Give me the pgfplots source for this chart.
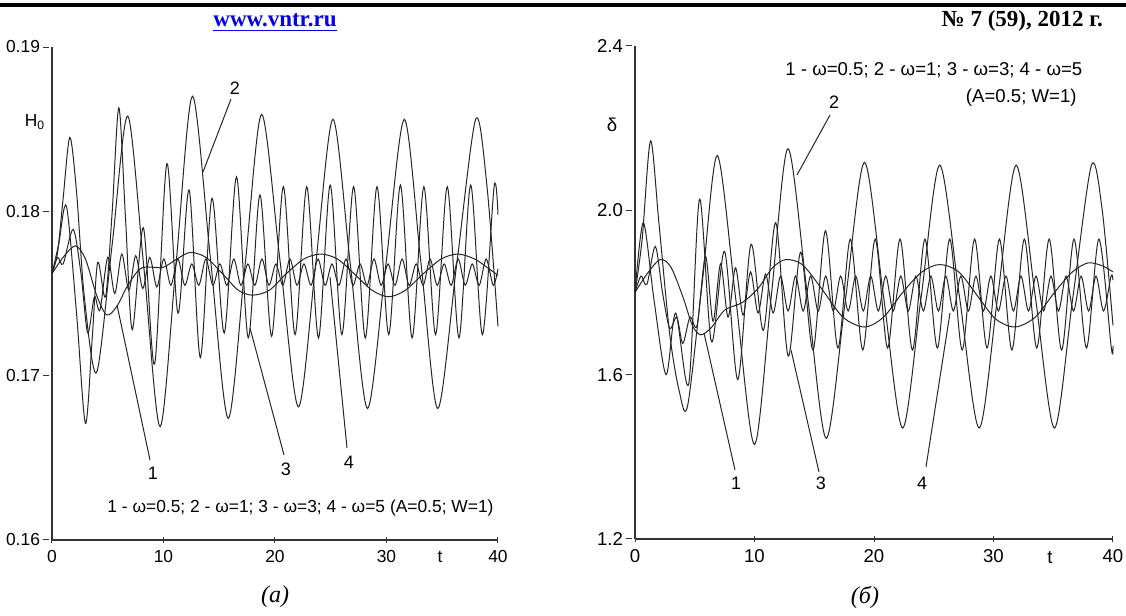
\documentclass[border=0pt]{standalone}
\usepackage{pgfplots}
\pgfplotsset{compat=1.18}
\usepackage{fontspec}
\setmainfont{Liberation Sans}
\newfontfamily\tnr{Liberation Serif}
\definecolor{linkblue}{RGB}{0,0,230}

% common look of both panels: only left and bottom axis lines
\pgfplotsset{
  panel/.style={
    scale only axis, anchor=south west,
    xmin=0, xmax=40, enlargelimits=false,
    axis lines=left, axis line style={-, black!80, line width=0.6pt},
    xtick={0,10,20,30,40}, xticklabels={0,10,20,30,40},
    major tick length=3pt, tick style={black!80, line width=0.5pt},
    ytick style={xshift=-3pt},
    yticklabel style={xshift=-1pt},
    clip=false,
  },
  crv/.style={black!85, line width=0.5pt, smooth, mark=none},
}

\begin{document}
\begin{tikzpicture}[x=0.5pt,y=0.5pt]
\useasboundingbox (0,0) rectangle (1126,616);

% page header
\draw[line width=2pt] (0,611) -- (1126,611);
\node[anchor=base, font=\tnr\bfseries\fontsize{11.5}{13}\selectfont, text=linkblue] at (275,589) {\underline{www.vntr.ru}};
\node[anchor=base east, font=\tnr\bfseries\fontsize{11.5}{13}\selectfont] at (1110,589) {№ 7 (59), 2012 г.};

% (a) H0
\begin{axis}[panel, at={(26pt,38pt)}, width=223pt, height=246.5pt,
  ymin=0.16, ymax=0.19,
  ytick={0.16,0.17,0.18,0.19}, yticklabels={0.16,0.17,0.18,0.19},
  ticklabel style={font=\fontsize{8.7}{10}\selectfont}]
% 1: omega=0.5
\addplot[crv] coordinates {(0,0.1762) (1.0,0.1772) (2.1,0.1779) (3.0,0.1771) (4.0,0.1749) (4.9,0.1737) (5.8,0.1742) (6.8,0.1755) (7.9,0.1765) (8.9,0.1766) (10.0,0.1766) (11.2,0.1771) (12.4,0.1775) (13.8,0.1772) (15.3,0.1762) (16.7,0.1752) (18.0,0.1749) (19.5,0.1752) (21.0,0.1762) (22.6,0.1771) (24.1,0.1774) (25.6,0.1771) (27.1,0.1762) (28.7,0.1752) (30.2,0.1748) (31.7,0.1752) (33.3,0.1762) (34.9,0.1771) (36.4,0.1774) (37.9,0.1771) (39.2,0.1765) (40,0.1761)};
% 2: omega=1
\addplot[crv] coordinates {(0,0.1762) (0.5,0.1775) (1.0,0.1808) (1.6,0.1845) (2.2,0.1812) (2.9,0.1748) (4.0,0.1702) (5.4,0.1780) (6.8,0.1858) (8.25,0.1765) (9.7,0.1669) (11.15,0.1770) (12.6,0.1870) (14.2,0.1772) (15.8,0.1674) (17.3,0.1766) (18.8,0.1859) (20.45,0.1770) (22.1,0.1681) (23.65,0.1768) (25.2,0.1856) (26.75,0.1768) (28.3,0.1680) (29.95,0.1768) (31.6,0.1856) (33.1,0.1768) (34.6,0.1680) (36.3,0.1768) (38.0,0.1856) (39.0,0.1816) (40,0.1730)};
% 3: omega=3
\addplot[crv] coordinates {(0,0.1762) (0.6,0.1780) (1.3,0.1803) (2.2,0.1738) (3.0,0.1671) (3.6,0.1722) (4.1,0.1769) (4.8,0.1748) (5.4,0.1800) (6.0,0.1863) (6.6,0.1795) (7.2,0.1728) (8.2,0.1790) (9.2,0.1707) (10.3,0.1829) (11.3,0.1738) (12.3,0.1813) (13.3,0.1711) (14.35,0.1808) (15.45,0.1726) (16.55,0.1821) (17.6,0.1723) (18.65,0.1810) (19.7,0.1724) (20.75,0.1815) (21.8,0.1725) (22.85,0.1815) (23.9,0.1723) (24.95,0.1816) (26.0,0.1725) (27.05,0.1815) (28.1,0.1723) (29.15,0.1815) (30.2,0.1725) (31.25,0.1816) (32.3,0.1723) (33.35,0.1815) (34.4,0.1725) (35.45,0.1815) (36.5,0.1723) (37.55,0.1816) (38.6,0.1725) (39.65,0.1815) (40,0.1798)};
% 4: omega=5
\addplot[crv] coordinates {(0,0.1762) (0.5,0.1772) (1.0,0.1768) (1.9,0.1789) (2.6,0.1762) (3.2,0.1726) (3.8,0.1748) (4.3,0.1740) (5.0,0.1772) (5.63,0.1750) (6.26,0.1774) (6.89,0.1752) (7.51,0.1773) (8.14,0.1753) (8.77,0.1772) (9.4,0.1754) (10.03,0.1771) (10.66,0.1755) (11.29,0.1771) (11.91,0.1755) (12.54,0.1768) (13.17,0.1755) (13.8,0.1771) (14.43,0.1755) (15.06,0.1768) (15.69,0.1755) (16.31,0.1771) (16.94,0.1755) (17.57,0.1768) (18.2,0.1755) (18.83,0.1771) (19.46,0.1755) (20.08,0.1768) (20.71,0.1755) (21.34,0.1771) (21.97,0.1755) (22.6,0.1768) (23.23,0.1755) (23.86,0.1771) (24.49,0.1755) (25.11,0.1768) (25.74,0.1755) (26.37,0.1771) (27.0,0.1755) (27.63,0.1768) (28.26,0.1755) (28.88,0.1771) (29.51,0.1755) (30.14,0.1768) (30.77,0.1755) (31.4,0.1771) (32.03,0.1755) (32.66,0.1768) (33.29,0.1755) (33.91,0.1771) (34.54,0.1755) (35.17,0.1768) (35.8,0.1755) (36.43,0.1771) (37.06,0.1755) (37.69,0.1768) (38.31,0.1755) (38.94,0.1771) (39.57,0.1755) (40,0.1765)};
\end{axis}

% (b) delta
\begin{axis}[panel, at={(317.5pt,38.5pt)}, width=239pt, height=246.5pt,
  ymin=1.2, ymax=2.4,
  ytick={1.2,1.6,2.0,2.4}, yticklabels={1.2,1.6,2.0,2.4},
  ticklabel style={font=\fontsize{9.3}{11}\selectfont}]
% 1: omega=0.5
\addplot[crv] coordinates {(0,1.80) (1.0,1.845) (2.1,1.88) (3.0,1.862) (4.0,1.79) (4.8,1.72) (5.5,1.697) (6.4,1.715) (7.5,1.757) (9.0,1.776) (10.3,1.81) (11.5,1.86) (12.6,1.88) (14.0,1.868) (15.6,1.81) (17.4,1.74) (19.2,1.716) (20.8,1.74) (22.4,1.80) (24.0,1.85) (25.5,1.868) (27.1,1.85) (28.7,1.79) (30.2,1.735) (31.8,1.716) (33.5,1.74) (35.1,1.80) (36.6,1.85) (37.9,1.872) (39.1,1.865) (40,1.85)};
% 2: omega=1
\addplot[crv] coordinates {(0,1.80) (0.6,1.93) (1.3,2.169) (2.0,1.97) (2.9,1.70) (3.7,1.56) (4.4,1.524) (5.65,1.83) (6.9,2.133) (8.45,1.78) (10.0,1.43) (11.4,1.79) (12.8,2.15) (14.4,1.80) (16.0,1.445) (17.6,1.78) (19.2,2.117) (20.8,1.79) (22.4,1.47) (23.95,1.79) (25.5,2.11) (27.15,1.79) (28.8,1.47) (30.35,1.79) (31.9,2.11) (33.5,1.79) (35.1,1.47) (36.65,1.79) (38.2,2.11) (39.1,2.0) (40,1.72)};
% 3: omega=3
\addplot[crv] coordinates {(0,1.80) (0.7,1.97) (1.6,1.78) (2.6,1.60) (3.4,1.75) (4.5,1.578) (5.4,2.027) (6.4,1.68) (7.5,1.90) (8.6,1.588) (9.7,1.917) (10.74,1.708) (11.78,1.97) (12.82,1.645) (13.86,1.898) (14.9,1.66) (15.94,1.95) (16.98,1.665) (18.02,1.93) (19.06,1.66) (20.1,1.93) (21.14,1.665) (22.18,1.93) (23.22,1.66) (24.26,1.93) (25.3,1.665) (26.34,1.93) (27.38,1.66) (28.42,1.93) (29.46,1.665) (30.5,1.93) (31.54,1.66) (32.58,1.93) (33.62,1.665) (34.66,1.93) (35.7,1.66) (36.74,1.93) (37.78,1.665) (38.82,1.93) (39.86,1.665) (40,1.67)};
% 4: omega=5
\addplot[crv] coordinates {(0,1.80) (0.5,1.84) (1.0,1.82) (1.7,1.912) (2.3,1.80) (2.9,1.713) (3.5,1.74) (4.0,1.676) (4.6,1.74) (5.2,1.72) (5.9,1.888) (6.53,1.73) (7.16,1.87) (7.79,1.74) (8.41,1.86) (9.04,1.745) (9.67,1.85) (10.3,1.75) (10.93,1.845) (11.56,1.75) (12.18,1.84) (12.81,1.755) (13.44,1.84) (14.07,1.755) (14.7,1.84) (15.33,1.755) (15.96,1.84) (16.59,1.755) (17.21,1.84) (17.84,1.755) (18.47,1.84) (19.1,1.755) (19.73,1.84) (20.36,1.755) (20.98,1.84) (21.61,1.755) (22.24,1.84) (22.87,1.755) (23.5,1.84) (24.13,1.755) (24.76,1.84) (25.39,1.755) (26.01,1.84) (26.64,1.755) (27.27,1.84) (27.9,1.755) (28.53,1.84) (29.16,1.755) (29.78,1.84) (30.41,1.755) (31.04,1.84) (31.67,1.755) (32.3,1.84) (32.93,1.755) (33.56,1.84) (34.19,1.755) (34.81,1.84) (35.44,1.755) (36.07,1.84) (36.7,1.755) (37.33,1.84) (37.96,1.755) (38.58,1.84) (39.21,1.755) (39.84,1.84) (40,1.83)};
\end{axis}

% axis names and t
\node[font=\fontsize{8.7}{10}\selectfont] at (35,494) {H\textsubscript{0}};
\node[font=\fontsize{9.3}{11}\selectfont] at (612,491) {δ};
\node[anchor=base, font=\fontsize{8.7}{10}\selectfont] at (440,53) {t};
\node[anchor=base, font=\fontsize{9.3}{11}\selectfont] at (1050,52.5) {t};

% legends
\node[anchor=west, inner sep=0pt, font=\fontsize{8.7}{10}\selectfont] at (107,108) {1 - ω=0.5; 2 - ω=1; 3 - ω=3; 4 - ω=5 (A=0.5; W=1)};
\node[anchor=west, inner sep=0pt, font=\fontsize{9.3}{11}\selectfont] at (785,546) {1 - ω=0.5; 2 - ω=1; 3 - ω=3; 4 - ω=5};
\node[anchor=east, inner sep=0pt, font=\fontsize{9.3}{11}\selectfont] at (1077,518) {(A=0.5; W=1)};

% curve numbers with leaders
\begin{scope}[black!85, line width=0.5pt]
\draw (231,517) -- (203,444);
\draw (150,156) -- (117,311);
\draw (284,161) -- (250,288);
\draw (347,168) -- (330,339);
\draw (830,501) -- (797,441);
\draw (735,146) -- (704,283);
\draw (819,144) -- (791,266);
\draw (926,149) -- (950,303);
\end{scope}
\begin{scope}[font=\fontsize{9}{10}\selectfont]
\node at (235,528) {2};
\node at (153,143) {1};
\node at (286,147) {3};
\node at (349,154) {4};
\node at (834,514) {2};
\node at (736,133) {1};
\node at (821,133) {3};
\node at (922,133) {4};
\end{scope}

% captions
\node[font=\tnr\itshape\fontsize{12}{14}\selectfont] at (275,19) {(а)};
\node[font=\tnr\itshape\fontsize{12}{14}\selectfont] at (865,19) {(б)};
\end{tikzpicture}
\end{document}
